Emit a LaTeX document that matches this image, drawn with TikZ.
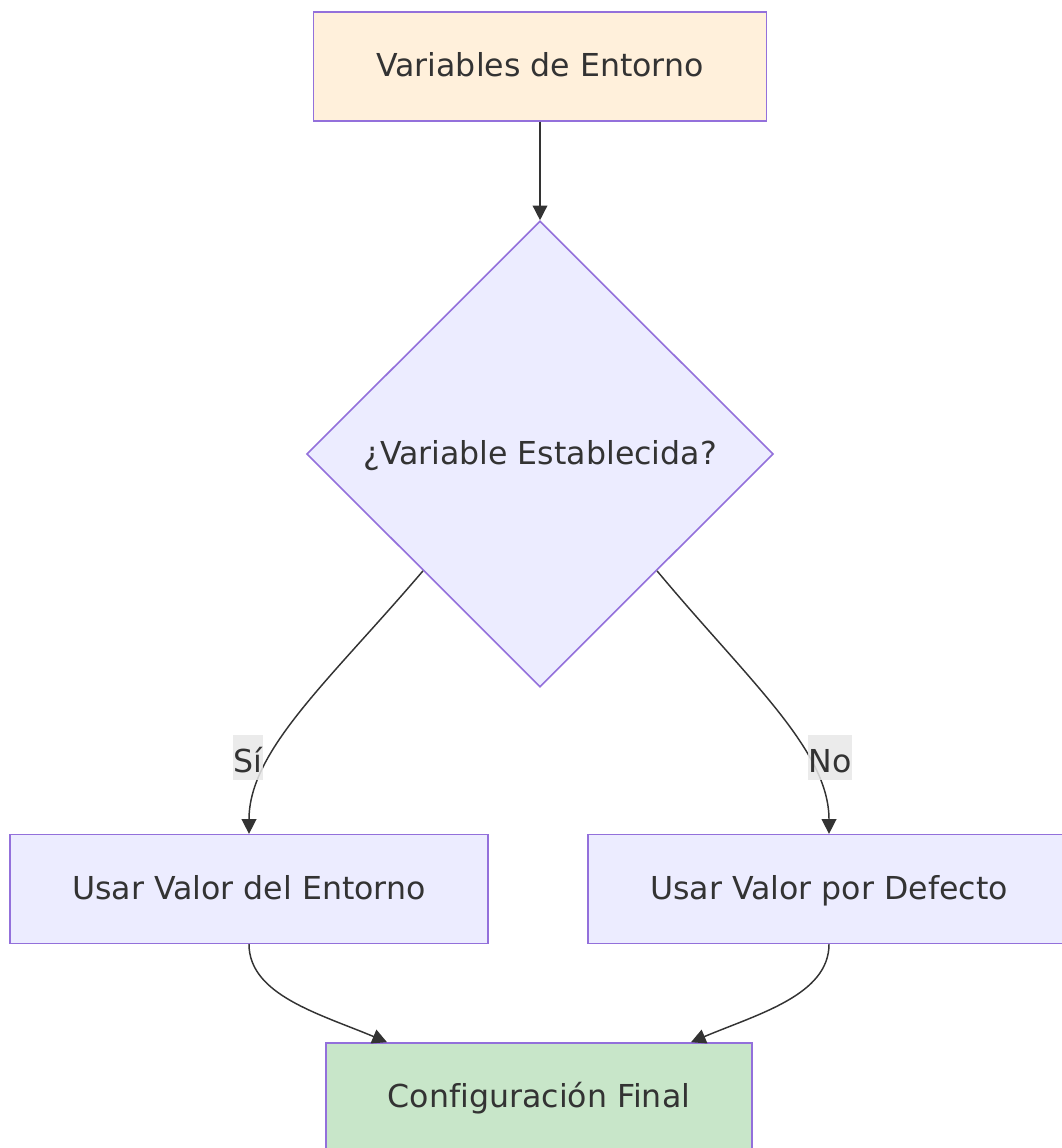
\documentclass[tikz,border=0pt]{standalone}
\usepackage{fontspec}
\setmainfont{DejaVu Sans}[Ligatures=NoCommon]
\usepackage{tikz}
\usetikzlibrary{shapes.geometric,arrows.meta}
\usepackage{xcolor}
\definecolor{txt}{HTML}{333333}
\definecolor{lila}{HTML}{9370DB}
\definecolor{lavanda}{HTML}{ECECFF}
\definecolor{melocoton}{HTML}{FFF0DB}
\definecolor{verde}{HTML}{C8E6C9}
\definecolor{etiq}{HTML}{E8E8E8}

\begin{document}
\begin{tikzpicture}[x=0.75pt,y=-0.75pt,
        caja/.style={draw=lila,line width=1.2pt,fill=lavanda,text=txt,inner sep=0pt,
                text height=20pt,text depth=5pt,
                minimum height=81.5pt,font=\fontsize{23.7}{28}\selectfont},
        rombo/.style={caja,diamond,aspect=1,minimum width=350pt,minimum height=349.5pt},
        etiqueta/.style={fill=etiq,fill opacity=0.85,text opacity=1,text=txt,
                inner xsep=0.5pt,inner ysep=3.4pt,text height=25pt,text depth=2pt,
                font=\fontsize{23.7}{28}\selectfont},
        flecha/.style={draw=txt,line width=1.1pt,-{Triangle[length=11pt,width=11pt]}}]
        \useasboundingbox (0,0) rectangle (1062,1148);
        \clip (0,0) rectangle (1062,1148);

        \node[caja,fill=melocoton,minimum width=339.75pt] (env) at (540,66.5) {Variables de Entorno};
        \node[rombo] (dec) at (540,454) {¿Variable Establecida?};
        \node[caja,minimum width=358.5pt] (usr) at (249,889) {Usar Valor del Entorno};
        \node[caja,minimum width=361.5pt] (def) at (829,889) {Usar Valor por Defecto};
        \node[caja,fill=verde,minimum width=319.5pt,minimum height=81pt] (fin) at (539,1097) {Configuración Final};

        \draw[flecha] (env.south) -- (dec.north);
        \draw[flecha] (dec.south west) .. controls (330,680) and (249,750) .. (usr.north);
        \draw[flecha] (dec.south east) .. controls (748,680) and (829,750) .. (def.north);
        \draw[flecha] (usr.south) .. controls (249,995) and (320,1014) .. (fin.north west -| 387,0);
        \draw[flecha] (def.south) .. controls (829,995) and (758,1014) .. (fin.north west -| 691,0);

        % etiquetas
        \node[etiqueta] (si) at (248,757.5) {Sí};
        \node[etiqueta] (no) at (830,757.5) {No};
\end{tikzpicture}
\end{document}
